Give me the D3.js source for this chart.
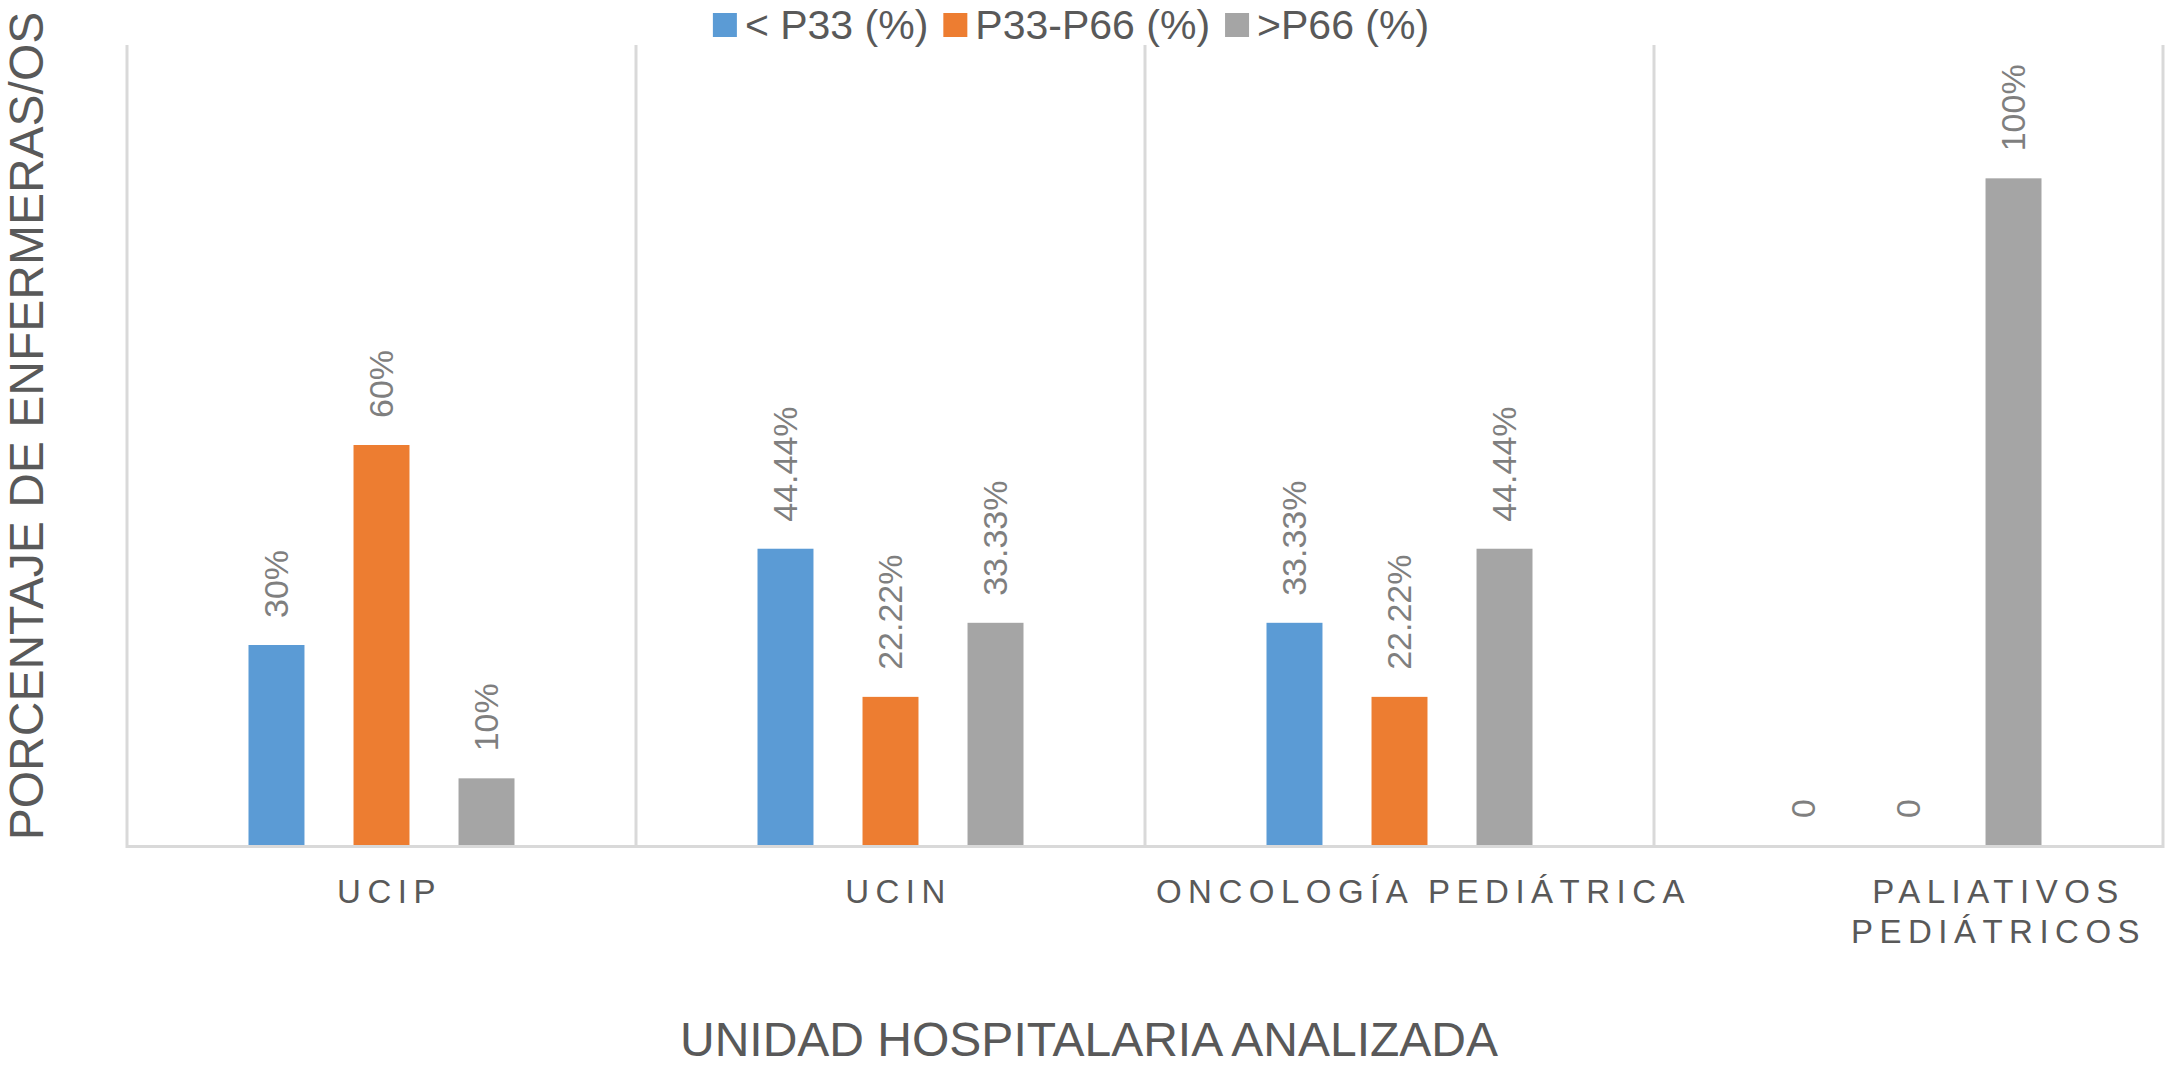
<!DOCTYPE html>
<html>
<head>
<meta charset="utf-8">
<script src="https://cdn.jsdelivr.net/npm/d3@7"></script>
<style>
  body { margin: 0; background: #ffffff; }
  svg { display: block; font-family: "Liberation Sans", Arial, sans-serif; }
</style>
</head>
<body>
<svg id="chart" width="2166" height="1069"></svg>
<script>
//----------data---------
const units = ["UCIP", "UCIN", "ONCOLOGÍA PEDIÁTRICA", "PALIATIVOS PEDIÁTRICOS"];
const series = ["< P33 (%)", "P33-P66 (%)", ">P66 (%)"];
const belowP33 = [0.30, 0.4444, 0.3333, 0];
const p33toP66 = [0.60, 0.2222, 0.2222, 0];
const aboveP66 = [0.10, 0.3333, 0.4444, 1.00];
const colors = ["#5b9bd5", "#ed7d31", "#a5a5a5"];

const seriesValues = [belowP33, p33toP66, aboveP66];

const width = 2166, height = 1069;
const margin = {top: 45, right: 3, bottom: 224, left: 127};
const textColor = "#595959";
const gridColor = "#d9d9d9";

const svg = d3.select("#chart");

// flatten to one row per bar
let bars = [];
units.forEach((unit, i) => {
  series.forEach((s, j) => {
    bars.push({unit: unit, series: s, value: seriesValues[j][i], color: colors[j]});
  });
});

//----------scales---------
const x0 = d3.scaleBand()
  .domain(units)
  .range([margin.left, width - margin.right])
  .paddingInner(0)
  .paddingOuter(0);

const x1 = d3.scaleBand()
  .domain(series)
  .range([0, x0.bandwidth()])
  .paddingInner(0.467)
  .paddingOuter(1.157);

const y = d3.scaleLinear()
  .domain([0, 1.2])
  .range([height - margin.bottom, margin.top]);

//----------category separators (vertical gridlines)---------
const sepX = units.map(u => x0(u)).concat([x0.range()[1]]);
svg.append("g")
  .selectAll("line")
  .data(sepX)
  .join("line")
  .attr("x1", d => d)
  .attr("x2", d => d)
  .attr("y1", y(1.2))
  .attr("y2", y(0))
  .attr("stroke", gridColor)
  .attr("stroke-width", 3);

//----------bars---------
svg.append("g")
  .selectAll("rect")
  .data(bars)
  .join("rect")
  .attr("x", d => x0(d.unit) + x1(d.series))
  .attr("y", d => y(d.value))
  .attr("width", x1.bandwidth())
  .attr("height", d => y(0) - y(d.value))
  .attr("fill", d => d.color);

// baseline axis line
svg.append("line")
  .attr("x1", x0.range()[0] - 1.5)
  .attr("x2", x0.range()[1] + 1.5)
  .attr("y1", y(0) + 1.5)
  .attr("y2", y(0) + 1.5)
  .attr("stroke", gridColor)
  .attr("stroke-width", 3);

//----------value labels (rotated)---------
const pct = d3.format(".4~p");
svg.append("g")
  .selectAll("text")
  .data(bars)
  .join("text")
  .attr("transform", d => {
    let cx = x0(d.unit) + x1(d.series) + x1.bandwidth() / 2;
    return `translate(${cx},${y(d.value) - 27}) rotate(-90)`;
  })
  .attr("dy", "0.35em")
  .attr("font-size", 34)
  .attr("fill", "#7f7f7f")
  .text(d => d.value === 0 ? "0" : pct(d.value));

//----------category labels---------
// excel nudges the wide labels to the right
const labelShift = [8, 8, 24, 90];
const catLabels = svg.append("g")
  .selectAll("text")
  .data(units)
  .join("text")
  .attr("x", (d, i) => x0(d) + x0.bandwidth() / 2 + labelShift[i])
  .attr("y", 903)
  .attr("text-anchor", "middle")
  .attr("font-size", 33)
  .attr("letter-spacing", 6.5)
  .attr("fill", textColor);

catLabels.each(function(d) {
  let words = d === "PALIATIVOS PEDIÁTRICOS" ? ["PALIATIVOS", "PEDIÁTRICOS"] : [d];
  let t = d3.select(this);
  words.forEach((w, k) => {
    t.append("tspan")
      .attr("x", t.attr("x"))
      .attr("dy", k === 0 ? 0 : 40)
      .text(w);
  });
});

//----------axis titles---------
svg.append("text")
  .attr("x", 1089)
  .attr("y", 1056)
  .attr("text-anchor", "middle")
  .attr("font-size", 48)
  .attr("fill", textColor)
  .text("UNIDAD HOSPITALARIA ANALIZADA");

svg.append("text")
  .attr("transform", "translate(43,426) rotate(-90)")
  .attr("text-anchor", "middle")
  .attr("font-size", 48)
  .attr("fill", textColor)
  .text("PORCENTAJE DE ENFERMERAS/OS");

//----------legend---------
const legend = svg.append("g");
let lx = 0;
series.forEach((s, j) => {
  legend.append("rect")
    .attr("x", lx)
    .attr("y", 13)
    .attr("width", 24)
    .attr("height", 24)
    .attr("fill", colors[j]);
  let label = legend.append("text")
    .attr("x", lx + 32)
    .attr("y", 39)
    .attr("font-size", 41)
    .attr("fill", textColor)
    .text(s);
  lx += 32 + label.node().getComputedTextLength() + 15;
});
// center the legend over the chart
let legendWidth = lx - 15;
legend.attr("transform", `translate(${1071 - legendWidth / 2},0)`);
</script>
</body>
</html>
